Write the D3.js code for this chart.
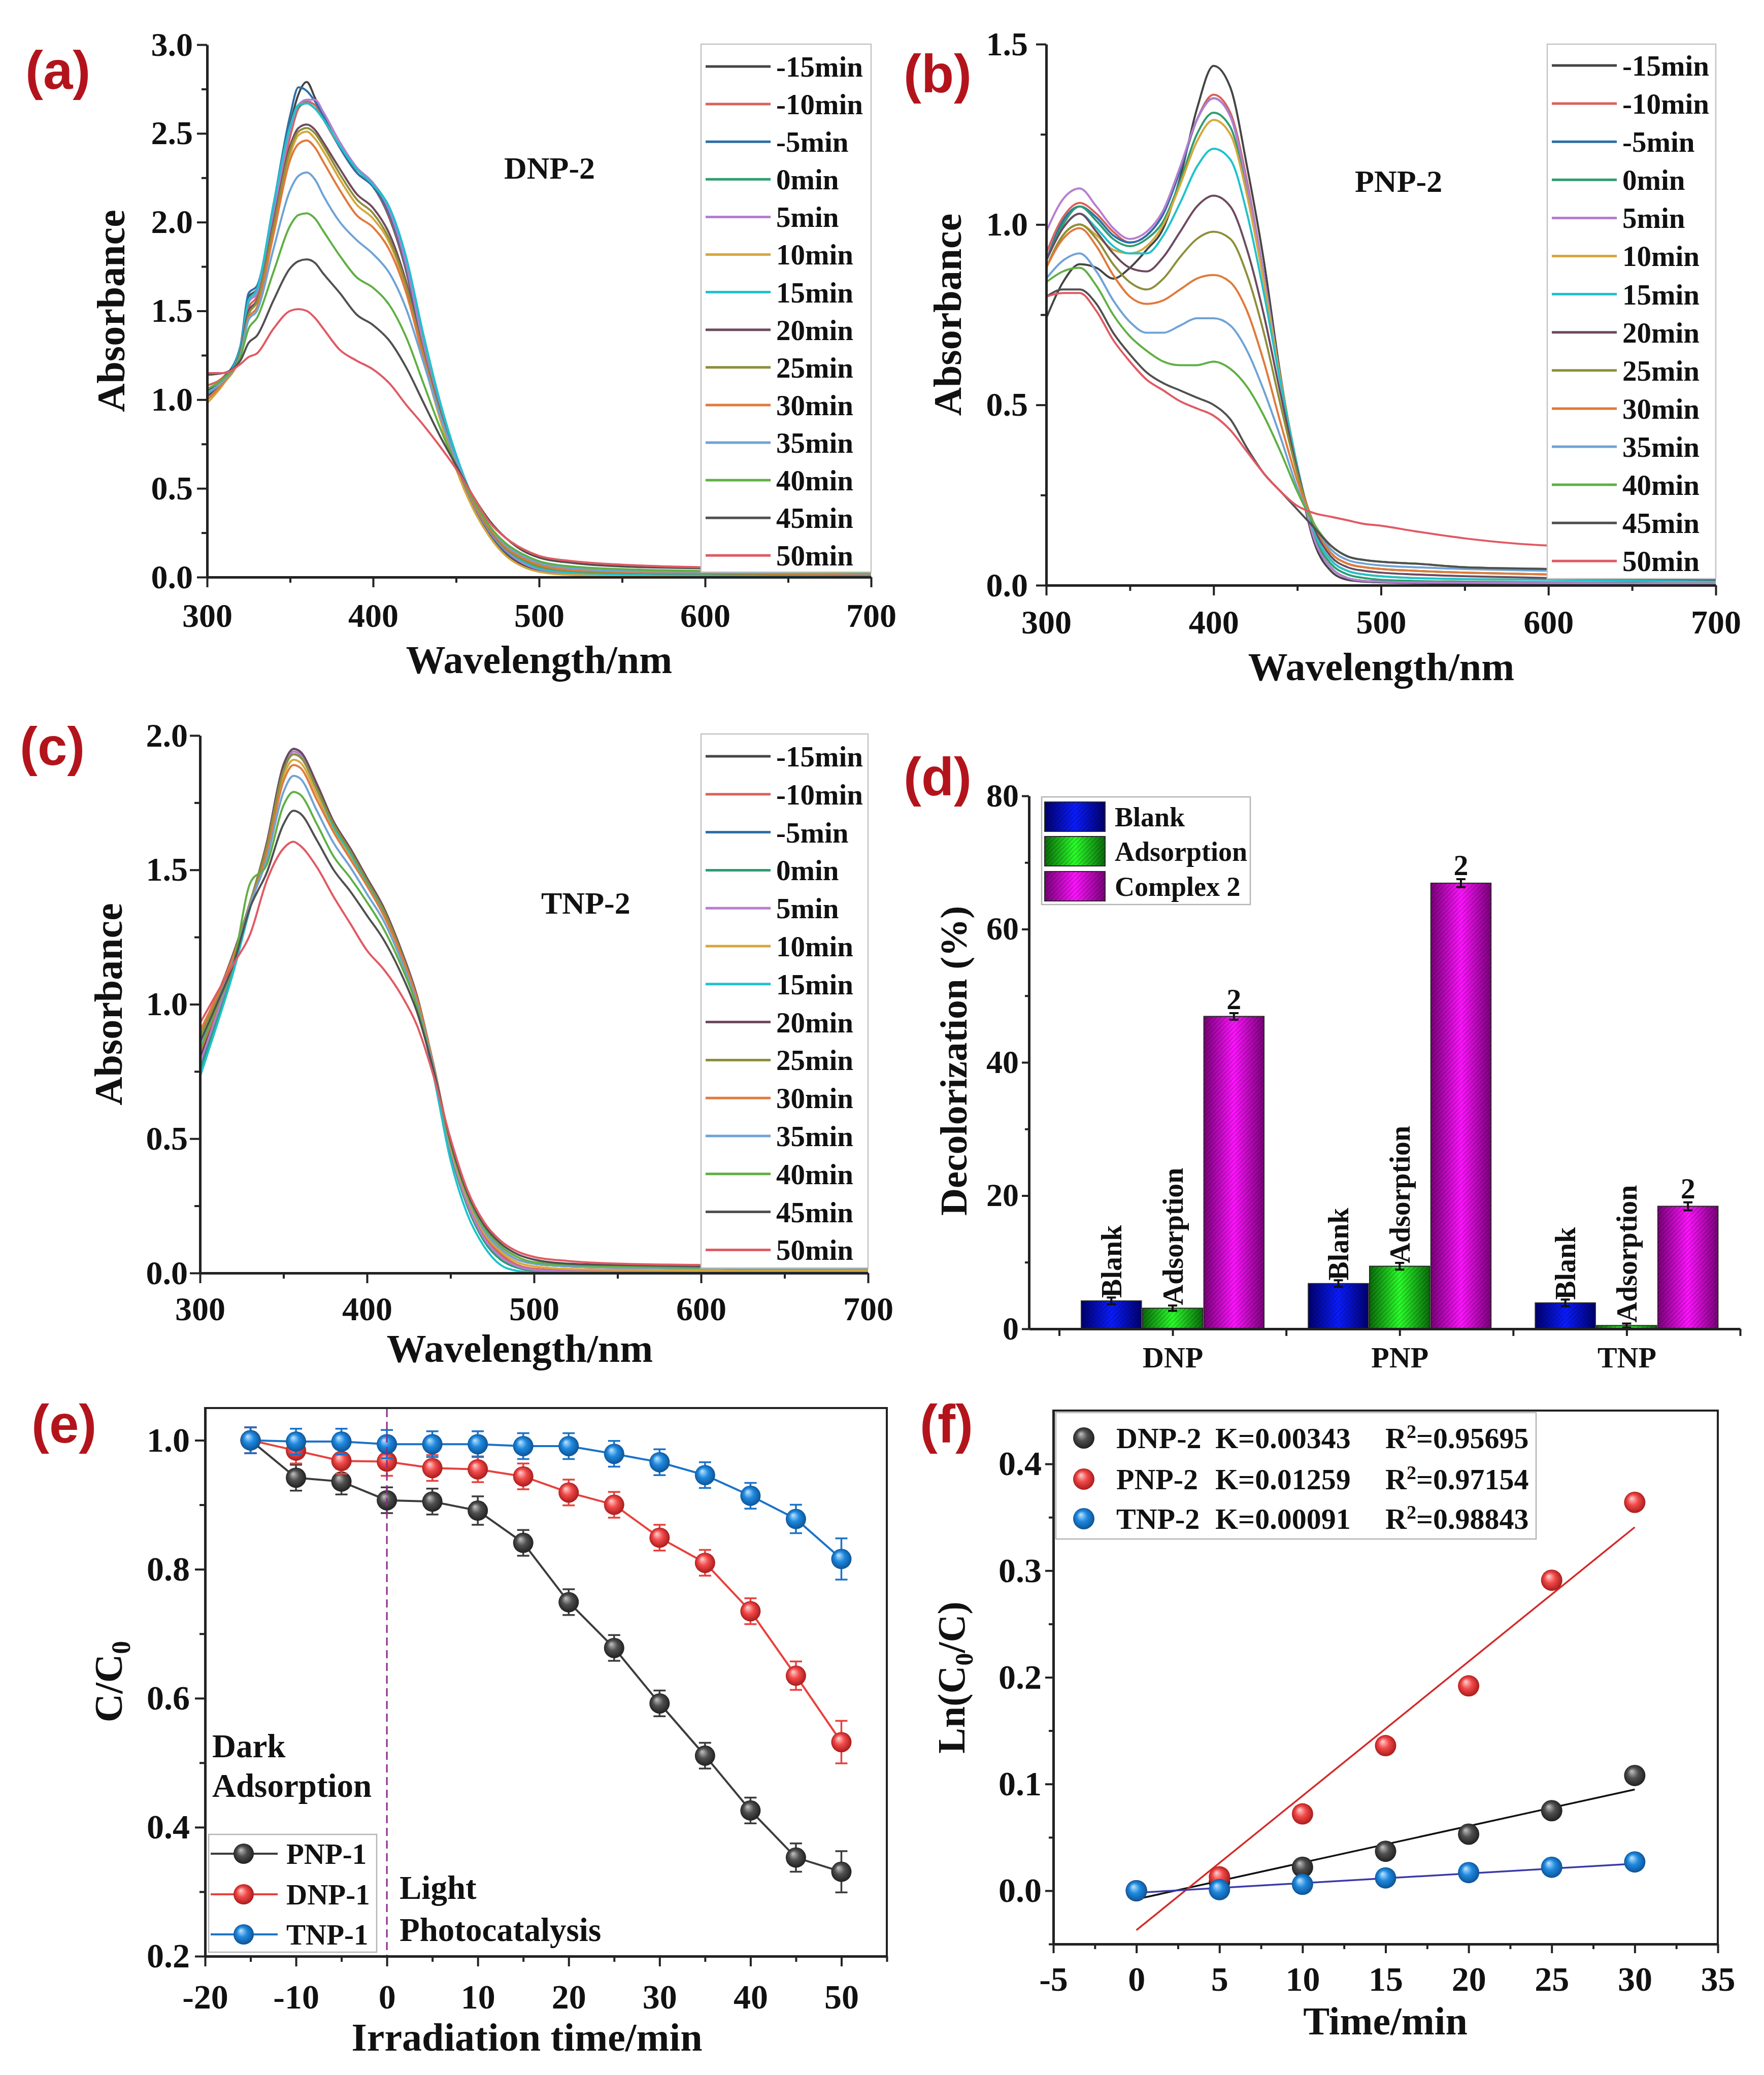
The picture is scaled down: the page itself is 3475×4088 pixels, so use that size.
<!DOCTYPE html>
<html>
<head>
<meta charset="utf-8">
<script src="https://cdn.jsdelivr.net/npm/d3@7/dist/d3.min.js"></script>
<style>
  body { margin: 0; background: #fff; }
  svg text { font-family: "Liberation Serif", "Times New Roman", serif; font-weight: bold; fill: #111; }
  svg text.tag { font-family: "Liberation Sans", Arial, sans-serif; fill: #b3141c; }
</style>
</head>
<body>
<div id="chart"></div>
<script>
// ---- spectra (a)-(c) ----
var timeLabels = ["-15min","-10min","-5min","0min","5min","10min","15min","20min","25min","30min","35min","40min","45min","50min"];
var lineColors = ["#454545","#d9625a","#2f6fa8","#2e9d72","#b57ed0","#d6a73c","#1fc2cc","#6e4a5e","#8d8f3a","#e07a3c","#6fa3d6","#5fb043","#505050","#e05a64"];

var wlDNP = [300,310,320,325,330,340,350,355,360,365,370,380,390,400,410,420,430,440,450,460,470,480,490,500,520,550,600,650,700];
var absDNP = [
  [1.05,1.12,1.28,1.58,1.62,2.05,2.55,2.72,2.79,2.70,2.60,2.42,2.28,2.20,2.02,1.72,1.28,0.92,0.62,0.40,0.24,0.13,0.07,0.035,0.015,0.01,0.008,0.006,0.005],
  [1.08,1.13,1.27,1.52,1.58,2.00,2.48,2.64,2.68,2.66,2.58,2.42,2.28,2.20,2.03,1.73,1.29,0.93,0.63,0.41,0.25,0.14,0.08,0.045,0.025,0.018,0.014,0.012,0.01],
  [1.04,1.12,1.30,1.60,1.64,2.10,2.60,2.76,2.74,2.68,2.60,2.42,2.28,2.20,2.04,1.74,1.30,0.93,0.63,0.41,0.25,0.14,0.08,0.04,0.02,0.012,0.01,0.008,0.006],
  [1.02,1.11,1.28,1.55,1.60,2.05,2.52,2.65,2.67,2.64,2.58,2.43,2.30,2.22,2.07,1.77,1.33,0.96,0.66,0.43,0.26,0.15,0.09,0.05,0.025,0.016,0.012,0.01,0.008],
  [1.03,1.11,1.28,1.55,1.60,2.04,2.52,2.66,2.69,2.69,2.62,2.45,2.31,2.22,2.06,1.76,1.32,0.95,0.65,0.42,0.26,0.15,0.08,0.045,0.022,0.014,0.01,0.008,0.007],
  [0.98,1.09,1.25,1.48,1.55,1.96,2.38,2.49,2.51,2.47,2.40,2.24,2.10,2.02,1.88,1.62,1.24,0.90,0.61,0.39,0.23,0.12,0.06,0.03,0.012,0.008,0.006,0.005,0.004],
  [1.03,1.11,1.29,1.56,1.62,2.10,2.54,2.66,2.67,2.64,2.58,2.43,2.30,2.21,2.08,1.80,1.38,1.00,0.69,0.45,0.28,0.16,0.09,0.05,0.025,0.016,0.012,0.01,0.008],
  [1.02,1.10,1.27,1.50,1.56,2.00,2.43,2.53,2.55,2.52,2.45,2.30,2.16,2.08,1.93,1.66,1.28,0.94,0.65,0.43,0.27,0.16,0.10,0.06,0.035,0.025,0.02,0.015,0.012],
  [1.00,1.10,1.26,1.48,1.55,1.98,2.41,2.51,2.53,2.50,2.43,2.27,2.13,2.05,1.90,1.64,1.27,0.93,0.65,0.43,0.27,0.16,0.10,0.06,0.035,0.025,0.02,0.015,0.012],
  [1.00,1.10,1.25,1.46,1.52,1.93,2.35,2.44,2.46,2.42,2.34,2.18,2.04,1.97,1.84,1.60,1.25,0.92,0.65,0.43,0.28,0.17,0.11,0.07,0.04,0.03,0.025,0.02,0.015],
  [1.04,1.11,1.25,1.45,1.50,1.85,2.18,2.26,2.28,2.24,2.15,2.00,1.90,1.82,1.71,1.51,1.22,0.92,0.66,0.45,0.29,0.18,0.12,0.08,0.05,0.035,0.03,0.025,0.02],
  [1.06,1.12,1.24,1.40,1.46,1.72,1.98,2.04,2.05,2.02,1.95,1.81,1.69,1.63,1.53,1.35,1.10,0.85,0.63,0.44,0.29,0.19,0.13,0.09,0.06,0.045,0.035,0.03,0.025],
  [1.14,1.15,1.22,1.32,1.36,1.56,1.74,1.78,1.79,1.77,1.71,1.60,1.48,1.42,1.33,1.18,0.99,0.80,0.63,0.46,0.32,0.22,0.15,0.11,0.08,0.06,0.05,0.045,0.04],
  [1.15,1.15,1.20,1.24,1.26,1.40,1.50,1.51,1.50,1.46,1.40,1.28,1.22,1.17,1.09,0.97,0.86,0.74,0.61,0.46,0.31,0.22,0.16,0.12,0.09,0.07,0.055,0.045,0.04]
];

var wlPNP = [300,310,320,330,340,350,360,370,380,390,400,410,420,430,440,450,460,470,480,490,500,520,550,600,650,700];
var absPNP = [
  [0.74,0.84,0.89,0.88,0.85,0.88,0.93,0.99,1.13,1.32,1.44,1.38,1.16,0.90,0.58,0.32,0.12,0.04,0.015,0.01,0.008,0.006,0.005,0.005,0.004,0.004],
  [0.92,1.02,1.06,1.03,0.98,0.95,0.97,1.03,1.15,1.29,1.36,1.31,1.12,0.86,0.57,0.32,0.13,0.05,0.02,0.012,0.01,0.008,0.007,0.006,0.005,0.005],
  [0.90,1.01,1.05,1.02,0.97,0.95,0.97,1.03,1.15,1.29,1.35,1.30,1.11,0.86,0.57,0.32,0.13,0.05,0.02,0.012,0.01,0.008,0.007,0.006,0.005,0.005],
  [0.90,1.00,1.05,1.01,0.96,0.94,0.96,1.01,1.12,1.25,1.31,1.27,1.09,0.85,0.57,0.33,0.14,0.06,0.03,0.02,0.015,0.012,0.01,0.008,0.007,0.006],
  [0.98,1.07,1.10,1.05,0.99,0.96,0.98,1.04,1.16,1.29,1.35,1.30,1.11,0.86,0.57,0.32,0.13,0.05,0.02,0.012,0.01,0.008,0.007,0.006,0.005,0.005],
  [0.88,0.97,1.00,0.97,0.93,0.92,0.94,1.00,1.11,1.23,1.29,1.25,1.08,0.84,0.57,0.33,0.15,0.07,0.04,0.03,0.025,0.02,0.017,0.015,0.013,0.012],
  [0.90,0.99,1.03,0.99,0.94,0.92,0.92,0.97,1.06,1.16,1.21,1.18,1.03,0.81,0.56,0.33,0.15,0.07,0.04,0.03,0.025,0.02,0.017,0.015,0.013,0.012],
  [0.90,0.99,1.03,0.98,0.92,0.88,0.87,0.91,0.98,1.05,1.08,1.05,0.93,0.75,0.53,0.32,0.16,0.08,0.05,0.04,0.035,0.03,0.025,0.02,0.018,0.016],
  [0.88,0.97,1.00,0.96,0.89,0.84,0.82,0.85,0.91,0.96,0.98,0.96,0.86,0.70,0.50,0.31,0.17,0.09,0.06,0.05,0.045,0.04,0.035,0.03,0.028,0.025],
  [0.88,0.96,0.99,0.94,0.86,0.80,0.78,0.79,0.82,0.85,0.86,0.84,0.76,0.62,0.45,0.29,0.17,0.09,0.06,0.05,0.045,0.04,0.035,0.03,0.028,0.025],
  [0.85,0.90,0.92,0.87,0.79,0.73,0.70,0.70,0.72,0.74,0.74,0.72,0.65,0.54,0.41,0.27,0.17,0.10,0.07,0.06,0.055,0.05,0.045,0.04,0.035,0.032],
  [0.84,0.87,0.88,0.83,0.75,0.69,0.65,0.62,0.61,0.61,0.62,0.60,0.55,0.47,0.37,0.26,0.17,0.11,0.08,0.07,0.065,0.06,0.05,0.045,0.04,0.038],
  [0.80,0.82,0.82,0.78,0.70,0.64,0.59,0.56,0.54,0.52,0.50,0.46,0.38,0.31,0.26,0.21,0.16,0.11,0.08,0.07,0.065,0.06,0.05,0.045,0.04,0.038],
  [0.80,0.81,0.81,0.76,0.68,0.62,0.57,0.54,0.51,0.49,0.47,0.43,0.37,0.31,0.26,0.22,0.20,0.19,0.18,0.17,0.165,0.15,0.13,0.11,0.105,0.10]
];

var wlTNP = [300,310,320,330,340,350,356,360,370,380,390,400,410,420,430,440,450,460,470,480,490,500,520,550,600,650,700];
var absTNP = [
  [0.80,0.97,1.15,1.37,1.60,1.89,1.95,1.94,1.81,1.67,1.57,1.46,1.35,1.20,1.02,0.76,0.46,0.27,0.14,0.07,0.03,0.015,0.008,0.005,0.004,0.003,0.003],
  [0.82,0.98,1.16,1.37,1.60,1.88,1.94,1.93,1.80,1.66,1.56,1.45,1.34,1.19,1.01,0.76,0.46,0.27,0.14,0.07,0.03,0.016,0.009,0.006,0.005,0.004,0.004],
  [0.76,0.95,1.14,1.36,1.60,1.89,1.95,1.94,1.81,1.67,1.57,1.46,1.35,1.20,1.02,0.76,0.45,0.25,0.12,0.05,0.02,0.008,0.004,0.003,0.003,0.003,0.003],
  [0.75,0.94,1.13,1.36,1.59,1.87,1.93,1.92,1.80,1.66,1.56,1.45,1.34,1.19,1.01,0.75,0.45,0.25,0.12,0.05,0.02,0.008,0.004,0.003,0.003,0.003,0.003],
  [0.78,0.96,1.15,1.37,1.60,1.88,1.94,1.93,1.80,1.66,1.56,1.45,1.34,1.19,1.01,0.76,0.46,0.26,0.13,0.06,0.025,0.012,0.006,0.004,0.004,0.003,0.003],
  [0.86,1.00,1.17,1.37,1.58,1.85,1.91,1.90,1.78,1.65,1.55,1.45,1.34,1.19,1.01,0.76,0.47,0.28,0.15,0.08,0.04,0.025,0.015,0.012,0.01,0.01,0.01],
  [0.73,0.92,1.12,1.36,1.59,1.87,1.93,1.92,1.80,1.66,1.56,1.45,1.34,1.19,1.00,0.73,0.42,0.22,0.10,0.03,0.008,0.002,0.001,0.001,0.001,0.001,0.001],
  [0.90,1.03,1.19,1.38,1.60,1.89,1.95,1.94,1.82,1.68,1.58,1.47,1.36,1.21,1.03,0.77,0.48,0.29,0.16,0.09,0.05,0.035,0.025,0.02,0.018,0.015,0.015],
  [0.88,1.02,1.18,1.38,1.59,1.87,1.93,1.92,1.80,1.67,1.57,1.46,1.35,1.20,1.02,0.77,0.48,0.29,0.16,0.09,0.05,0.035,0.025,0.02,0.018,0.015,0.015],
  [0.90,1.03,1.18,1.37,1.56,1.83,1.89,1.88,1.76,1.64,1.54,1.44,1.33,1.19,1.02,0.77,0.48,0.29,0.16,0.09,0.05,0.035,0.025,0.02,0.018,0.015,0.015],
  [0.85,1.00,1.16,1.37,1.54,1.79,1.85,1.84,1.72,1.60,1.51,1.41,1.31,1.17,1.00,0.76,0.48,0.29,0.16,0.09,0.05,0.035,0.025,0.02,0.018,0.015,0.015],
  [0.83,0.99,1.15,1.45,1.52,1.74,1.79,1.78,1.67,1.55,1.47,1.38,1.28,1.15,0.99,0.75,0.48,0.29,0.17,0.10,0.06,0.04,0.03,0.025,0.02,0.02,0.02],
  [0.86,1.00,1.15,1.36,1.49,1.67,1.72,1.71,1.61,1.50,1.42,1.33,1.24,1.12,0.97,0.75,0.49,0.30,0.18,0.11,0.07,0.05,0.035,0.03,0.025,0.022,0.02],
  [0.93,1.04,1.15,1.26,1.46,1.58,1.605,1.59,1.51,1.40,1.30,1.20,1.13,1.04,0.92,0.73,0.50,0.31,0.19,0.12,0.08,0.06,0.045,0.035,0.03,0.025,0.022]
];

// ---- bars (d) ----
var groups = ["DNP", "PNP", "TNP"];
var barSeries = ["Blank", "Adsorption", "Complex 2"];
var blankVals = [4.2, 6.8, 3.9];
var adsVals = [3.1, 9.4, 0.5];
var complexVals = [46.9, 66.9, 18.4];
var blankErr = [0.5, 0.5, 0.5];
var adsErr = [0.4, 0.5, 0.3];
var complexErr = [0.5, 0.6, 0.6];

// ---- kinetics (e) ----
var timesE = [-15,-10,-5,0,5,10,15,20,25,30,35,40,45,50];
var pnp1 = [1.0,0.942,0.936,0.907,0.905,0.891,0.841,0.749,0.678,0.592,0.511,0.426,0.353,0.331];
var dnp1 = [1.0,0.984,0.968,0.967,0.957,0.955,0.944,0.919,0.900,0.849,0.810,0.735,0.635,0.532];
var tnp1 = [1.0,0.998,0.998,0.994,0.994,0.994,0.991,0.991,0.979,0.966,0.946,0.914,0.878,0.816];
var pnp1Err = [0.02,0.02,0.02,0.02,0.02,0.022,0.02,0.02,0.02,0.02,0.02,0.02,0.022,0.032];
var dnp1Err = [0.02,0.02,0.02,0.022,0.02,0.02,0.02,0.02,0.02,0.02,0.02,0.02,0.022,0.033];
var tnp1Err = [0.02,0.02,0.02,0.022,0.02,0.02,0.02,0.02,0.02,0.02,0.02,0.02,0.022,0.032];

// ---- ln(C0/C) fit (f) ----
var timesF = [0,5,10,15,20,25,30];
var dnp2 = [0,0.008,0.022,0.037,0.053,0.075,0.108];
var pnp2 = [0,0.013,0.072,0.136,0.192,0.291,0.364];
var tnp2 = [0,0.001,0.006,0.012,0.017,0.022,0.027];
var fitNames = ["DNP-2", "PNP-2", "TNP-2"];
var fitK = [0.00343, 0.01259, 0.00091];
var fitB = [-0.008, -0.037, -0.002];
var fitR2 = ["0.95695", "0.97154", "0.98843"];

var W = 3475, H = 4088;
var svg = d3.select("#chart").append("svg").attr("width", W).attr("height", H);
svg.append("rect").attr("width", W).attr("height", H).attr("fill", "#fff");
var defs = svg.append("defs");

// plain hyphen for negative ticks, like the original
var plain = function(d) { return String(d); };

function styleAxis(g, fs) {
  g.attr("font-size", fs);
  g.select(".domain").attr("stroke", "#222").attr("stroke-width", 5);
  g.selectAll(".tick line").attr("stroke", "#222").attr("stroke-width", 4);
}
function minorAxis(g) {
  g.select(".domain").remove();
  g.selectAll(".tick line").attr("stroke", "#222").attr("stroke-width", 4);
}
function tag(txt, x, y) {
  svg.append("text").attr("class", "tag").attr("x", x).attr("y", y).attr("font-size", 105).text(txt);
}
function ytitle(x, y, fs) {
  return svg.append("text").attr("transform", "translate(" + x + "," + y + ") rotate(-90)")
    .attr("text-anchor", "middle").attr("font-size", fs);
}

// spectra panels
function drawSpectrum(p) {
  var x = d3.scaleLinear().domain([300, 700]).range([p.x0, p.x1]);
  var y = d3.scaleLinear().domain([0, p.yMax]).range([p.y1, p.y0]);
  defs.append("clipPath").attr("id", "clip" + p.key).append("rect")
    .attr("x", p.x0).attr("y", p.y0 - 20).attr("width", p.x1 - p.x0).attr("height", p.y1 - p.y0 + 20);
  var line = d3.line()
    .x(function(d, i) { return x(p.wl[i]); })
    .y(function(d) { return y(d); })
    .curve(d3.curveMonotoneX);
  svg.append("g").attr("clip-path", "url(#clip" + p.key + ")")
    .selectAll("path").data(p.rows).enter().append("path")
    .attr("d", line).attr("fill", "none")
    .attr("stroke", function(d, i) { return lineColors[i]; })
    .attr("stroke-width", 4);

  // legend
  var lg = svg.append("g");
  lg.append("rect").attr("x", p.lx0).attr("y", p.ly0).attr("width", p.x1 - p.lx0).attr("height", p.ly1 - p.ly0)
    .attr("fill", "#fff").attr("stroke", "#c4c4c4").attr("stroke-width", 2.5);
  var rows = lg.selectAll(".lr").data(timeLabels).enter().append("g")
    .attr("transform", function(d, i) { return "translate(0," + (p.lfirst + i * p.lstep) + ")"; });
  rows.append("line").attr("x1", p.lx0 + 9).attr("x2", p.lx0 + 137)
    .attr("stroke", function(d, i) { return lineColors[i]; }).attr("stroke-width", 5);
  rows.append("text").attr("x", p.lx0 + 148).attr("dy", "0.35em").attr("font-size", 57).text(function(d) { return d; });

  var ax = svg.append("g").attr("transform", "translate(0," + p.y1 + ")")
    .call(d3.axisBottom(x).tickValues([300,400,500,600,700]).tickSize(20).tickPadding(p.xPad).tickSizeOuter(0));
  styleAxis(ax, 66);
  var axm = svg.append("g").attr("transform", "translate(0," + p.y1 + ")")
    .call(d3.axisBottom(x).tickValues([350,450,550,650]).tickSize(11).tickFormat(""));
  minorAxis(axm);
  var ay = svg.append("g").attr("transform", "translate(" + p.x0 + ",0)")
    .call(d3.axisLeft(y).tickValues(d3.range(0, p.yMax + 0.01, 0.5)).tickFormat(d3.format(".1f"))
      .tickSize(20).tickPadding(p.yPad).tickSizeOuter(0));
  styleAxis(ay, 66);
  var aym = svg.append("g").attr("transform", "translate(" + p.x0 + ",0)")
    .call(d3.axisLeft(y).tickValues(d3.range(0.25, p.yMax, 0.5)).tickSize(11).tickFormat(""));
  minorAxis(aym);

  svg.append("text").attr("x", p.nx).attr("y", p.ny).attr("font-size", 62).text(p.name);
  ytitle(p.tx, (p.y0 + p.y1) / 2, 78).text("Absorbance");
  svg.append("text").attr("x", p.wx).attr("y", p.wy).attr("text-anchor", "middle").attr("font-size", 78).text("Wavelength/nm");
}

drawSpectrum({ key: "a", wl: wlDNP, rows: absDNP, x0: 408, x1: 1716, y0: 88, y1: 1137, yMax: 3,
  xPad: 31, yPad: 8, lx0: 1381, ly0: 87, ly1: 1127, lfirst: 131, lstep: 74.1,
  name: "DNP-2", nx: 993, ny: 352, tx: 245, wx: 1062, wy: 1326 });
drawSpectrum({ key: "b", wl: wlPNP, rows: absPNP, x0: 2061, x1: 3380, y0: 87, y1: 1153, yMax: 1.5,
  xPad: 28, yPad: 16, lx0: 3048, ly0: 87, ly1: 1140, lfirst: 129, lstep: 75.1,
  name: "PNP-2", nx: 2669, ny: 378, tx: 1893, wx: 2721, wy: 1340 });
drawSpectrum({ key: "c", wl: wlTNP, rows: absTNP, x0: 394, x1: 1710, y0: 1449, y1: 2508, yMax: 2,
  xPad: 26, yPad: 4, lx0: 1381, ly0: 1446, ly1: 2498, lfirst: 1490, lstep: 74.8,
  name: "TNP-2", nx: 1066, ny: 1800, tx: 240, wx: 1024, wy: 2683 });

tag("(a)", 50, 175);
tag("(b)", 1780, 182);
tag("(c)", 39, 1507);
tag("(d)", 1780, 1567);
tag("(e)", 62, 2842);
tag("(f)", 1812, 2842);

// ---- panel (d) ----
(function() {
  var x = d3.scaleLinear().domain([0.367, 3.5]).range([2027, 3428]);
  var y = d3.scaleLinear().domain([0, 80]).range([2618, 1568]);
  var fills = [["#00006e", "#0a1cff"], ["#0a6b0a", "#2bff2b"], ["#7a007a", "#ff14ff"]];
  fills.forEach(function(f, i) {
    var lgr = defs.append("linearGradient").attr("id", "bar" + i).attr("x1", 0).attr("x2", 1).attr("y1", 0).attr("y2", 0);
    lgr.append("stop").attr("offset", "0%").attr("stop-color", f[0]);
    lgr.append("stop").attr("offset", "50%").attr("stop-color", f[1]);
    lgr.append("stop").attr("offset", "100%").attr("stop-color", f[0]);
  });
  var pat = defs.append("pattern").attr("id", "hatch").attr("width", 9).attr("height", 9).attr("patternUnits", "userSpaceOnUse");
  pat.append("path").attr("d", "M-2,2 L2,-2 M0,9 L9,0 M7,11 L11,7").attr("stroke", "rgba(0,0,0,0.18)").attr("stroke-width", 2);

  var vals = [blankVals, adsVals, complexVals];
  var errs = [blankErr, adsErr, complexErr];
  var offs = [-0.27, 0, 0.27];
  var bw = x(0.265) - x(0);
  var bars = [];
  groups.forEach(function(g, gi) {
    vals.forEach(function(v, si) {
      bars.push({ cat: gi + 1, s: si, v: v[gi], e: errs[si][gi] });
    });
  });
  var bg = svg.append("g");
  var b = bg.selectAll("g").data(bars).enter().append("g");
  b.append("rect").attr("x", function(d) { return x(d.cat + offs[d.s]) - bw / 2; })
    .attr("y", function(d) { return y(d.v); }).attr("width", bw)
    .attr("height", function(d) { return y(0) - y(d.v); })
    .attr("fill", function(d) { return "url(#bar" + d.s + ")"; })
    .attr("stroke", "#2a2a2a").attr("stroke-width", 2);
  b.append("rect").attr("x", function(d) { return x(d.cat + offs[d.s]) - bw / 2; })
    .attr("y", function(d) { return y(d.v); }).attr("width", bw)
    .attr("height", function(d) { return y(0) - y(d.v); })
    .attr("fill", "url(#hatch)");
  // error bars
  b.append("path").attr("d", function(d) {
    var cx = x(d.cat + offs[d.s]), t = y(d.v + d.e), bt = y(d.v - d.e);
    return "M" + (cx - 9) + "," + t + "H" + (cx + 9) + "M" + cx + "," + t + "V" + bt + "M" + (cx - 9) + "," + bt + "H" + (cx + 9);
  }).attr("stroke", "#111").attr("stroke-width", 4).attr("fill", "none");
  // rotated names above Blank / Adsorption bars
  b.filter(function(d) { return d.s < 2; }).append("text").attr("transform", function(d) {
      return "translate(" + x(d.cat + offs[d.s]) + "," + (y(d.v) - 6) + ") rotate(-90)";
    })
    .attr("dy", "0.35em").attr("font-size", 56)
    .text(function(d) { return barSeries[d.s]; });
  // upright "2" above Complex 2 bars
  b.filter(function(d) { return d.s === 2; }).append("text")
    .attr("x", function(d) { return x(d.cat + offs[d.s]); })
    .attr("y", function(d) { return y(d.v + d.e) - 8; })
    .attr("text-anchor", "middle").attr("font-size", 58).text("2");

  var ax = svg.append("g").attr("transform", "translate(0,2618)")
    .call(d3.axisBottom(x).tickValues([1, 2, 3]).tickFormat(function(d) { return groups[d - 1]; })
      .tickSize(14).tickPadding(21).tickSizeOuter(0));
  styleAxis(ax, 58);
  var axm = svg.append("g").attr("transform", "translate(0,2618)")
    .call(d3.axisBottom(x).tickValues([0.5, 1.5, 2.5, 3.5]).tickSize(14).tickFormat(""));
  minorAxis(axm);
  var ay = svg.append("g").attr("transform", "translate(2027,0)")
    .call(d3.axisLeft(y).tickValues([0, 20, 40, 60, 80]).tickSize(14).tickPadding(6).tickSizeOuter(0));
  styleAxis(ay, 64);
  var aym = svg.append("g").attr("transform", "translate(2027,0)")
    .call(d3.axisLeft(y).tickValues([10, 30, 50, 70]).tickSize(8).tickFormat(""));
  minorAxis(aym);

  // legend
  var lg = svg.append("g");
  lg.append("rect").attr("x", 2052).attr("y", 1570).attr("width", 411).attr("height", 212)
    .attr("fill", "#fff").attr("stroke", "#b4b4b4").attr("stroke-width", 2.5);
  var lr = lg.selectAll(".r").data(barSeries).enter().append("g")
    .attr("transform", function(d, i) { return "translate(0," + [1609, 1677, 1746][i] + ")"; });
  lr.append("rect").attr("x", 2058).attr("y", -29).attr("width", 119).attr("height", 58)
    .attr("fill", function(d, i) { return "url(#bar" + i + ")"; }).attr("stroke", "#2a2a2a").attr("stroke-width", 2);
  lr.append("rect").attr("x", 2058).attr("y", -29).attr("width", 119).attr("height", 58).attr("fill", "url(#hatch)");
  lr.append("text").attr("x", 2196).attr("dy", "0.35em").attr("font-size", 54).text(function(d) { return d; });

  ytitle(1904, 2090, 75).text("Decolorization (%)");
})();

// sphere gradients
var sphere = { gray: ["#c4c4c4", "#505050", "#1a1a1a"], red: ["#ffd4d4", "#f24a4a", "#a01515"], blue: ["#c4e6ff", "#1f8ae0", "#0b4c8c"] };
Object.keys(sphere).forEach(function(k) {
  var rg = defs.append("radialGradient").attr("id", "sph-" + k).attr("cx", "50%").attr("cy", "50%").attr("r", "55%")
    .attr("fx", "35%").attr("fy", "30%");
  rg.append("stop").attr("offset", "0%").attr("stop-color", sphere[k][0]);
  rg.append("stop").attr("offset", "45%").attr("stop-color", sphere[k][1]);
  rg.append("stop").attr("offset", "100%").attr("stop-color", sphere[k][2]);
});

// ---- panel (e) ----
(function() {
  var x = d3.scaleLinear().domain([-20, 55]).range([404, 1747]);
  var y = d3.scaleLinear().domain([0.2, 1.05]).range([3854, 2774]);
  svg.append("rect").attr("x", 404).attr("y", 2774).attr("width", 1343).attr("height", 1080)
    .attr("fill", "none").attr("stroke", "#222").attr("stroke-width", 4);

  var series = [
    { vals: pnp1, err: pnp1Err, col: "#3c3c3c", sph: "gray", name: "PNP-1" },
    { vals: dnp1, err: dnp1Err, col: "#e8413c", sph: "red", name: "DNP-1" },
    { vals: tnp1, err: tnp1Err, col: "#1b73c8", sph: "blue", name: "TNP-1" }
  ];
  var line = d3.line().x(function(d, i) { return x(timesE[i]); }).y(function(d) { return y(d); });
  series.forEach(function(s) {
    var g = svg.append("g");
    g.append("path").attr("d", line(s.vals)).attr("fill", "none").attr("stroke", s.col).attr("stroke-width", 4);
    g.selectAll(".eb").data(s.vals).enter().append("path")
      .attr("d", function(d, i) {
        var cx = x(timesE[i]), t = y(d + s.err[i]), bt = y(d - s.err[i]);
        return "M" + (cx - 12) + "," + t + "H" + (cx + 12) + "M" + cx + "," + t + "V" + bt + "M" + (cx - 12) + "," + bt + "H" + (cx + 12);
      })
      .attr("stroke", s.col).attr("stroke-width", 3.5).attr("fill", "none");
    g.selectAll("circle").data(s.vals).enter().append("circle")
      .attr("cx", function(d, i) { return x(timesE[i]); }).attr("cy", function(d) { return y(d); })
      .attr("r", 20).attr("fill", "url(#sph-" + s.sph + ")");
  });
  svg.append("line").attr("x1", x(0)).attr("x2", x(0)).attr("y1", 2776).attr("y2", 3852)
    .attr("stroke", "#8b2a8b").attr("stroke-width", 3).attr("stroke-dasharray", "16,9");

  var ax = svg.append("g").attr("transform", "translate(0,3854)")
    .call(d3.axisBottom(x).tickValues(d3.range(-20, 51, 10)).tickFormat(plain).tickSize(20).tickPadding(35).tickSizeOuter(0));
  styleAxis(ax, 68);
  var axm = svg.append("g").attr("transform", "translate(0,3854)")
    .call(d3.axisBottom(x).tickValues(d3.range(-15, 56, 10)).tickSize(11).tickFormat(""));
  minorAxis(axm);
  var ay = svg.append("g").attr("transform", "translate(404,0)")
    .call(d3.axisLeft(y).tickValues([0.2, 0.4, 0.6, 0.8, 1.0]).tickFormat(d3.format(".1f"))
      .tickSize(20).tickPadding(10).tickSizeOuter(0));
  styleAxis(ay, 68);
  var aym = svg.append("g").attr("transform", "translate(404,0)")
    .call(d3.axisLeft(y).tickValues([0.3, 0.5, 0.7, 0.9]).tickSize(11).tickFormat(""));
  minorAxis(aym);

  // legend
  var lg = svg.append("g");
  lg.append("rect").attr("x", 411).attr("y", 3614).attr("width", 331).attr("height", 232)
    .attr("fill", "#fff").attr("stroke", "#b4b4b4").attr("stroke-width", 2.5);
  var lr = lg.selectAll(".r").data(series).enter().append("g")
    .attr("transform", function(d, i) { return "translate(0," + [3652, 3732, 3811][i] + ")"; });
  lr.append("line").attr("x1", 415).attr("x2", 547).attr("stroke", function(d) { return d.col; }).attr("stroke-width", 4);
  lr.append("circle").attr("cx", 480).attr("r", 20).attr("fill", function(d) { return "url(#sph-" + d.sph + ")"; });
  lr.append("text").attr("x", 564).attr("dy", "0.35em").attr("font-size", 57).text(function(d) { return d.name; });

  svg.append("text").attr("x", 418).attr("y", 3462).attr("font-size", 65).text("Dark");
  svg.append("text").attr("x", 418).attr("y", 3540).attr("font-size", 65).text("Adsorption");
  svg.append("text").attr("x", 787).attr("y", 3741).attr("font-size", 65).text("Light");
  svg.append("text").attr("x", 787).attr("y", 3824).attr("font-size", 65).text("Photocatalysis");

  var t = ytitle(240, 3313, 78);
  t.append("tspan").text("C/C");
  t.append("tspan").attr("font-size", 52).attr("dy", 16).text("0");
  svg.append("text").attr("x", 1038).attr("y", 4040).attr("text-anchor", "middle").attr("font-size", 78).text("Irradiation time/min");
})();

// ---- panel (f) ----
(function() {
  var x = d3.scaleLinear().domain([-5, 35]).range([2075, 3384]);
  var y = d3.scaleLinear().domain([-0.05, 0.45]).range([3830, 2779]);
  svg.append("rect").attr("x", 2075).attr("y", 2779).attr("width", 1309).attr("height", 1051)
    .attr("fill", "none").attr("stroke", "#222").attr("stroke-width", 4);

  var pts = [dnp2, pnp2, tnp2];
  var lineCols = ["#111", "#d42a2a", "#3b3ba8"];
  var sph = ["gray", "red", "blue"];
  fitK.forEach(function(k, i) {
    svg.append("line").attr("x1", x(0)).attr("y1", y(fitB[i])).attr("x2", x(30)).attr("y2", y(fitB[i] + k * 30))
      .attr("stroke", lineCols[i]).attr("stroke-width", 3.5);
  });
  pts.forEach(function(p, i) {
    svg.append("g").selectAll("circle").data(p).enter().append("circle")
      .attr("cx", function(d, j) { return x(timesF[j]); }).attr("cy", function(d) { return y(d); })
      .attr("r", 21).attr("fill", "url(#sph-" + sph[i] + ")");
  });

  var ax = svg.append("g").attr("transform", "translate(0,3830)")
    .call(d3.axisBottom(x).tickValues(d3.range(-5, 36, 5)).tickFormat(plain).tickSize(18).tickPadding(26).tickSizeOuter(0));
  styleAxis(ax, 68);
  var axm = svg.append("g").attr("transform", "translate(0,3830)")
    .call(d3.axisBottom(x).tickValues(d3.range(-2.5, 35, 5)).tickSize(10).tickFormat(""));
  minorAxis(axm);
  var ay = svg.append("g").attr("transform", "translate(2075,0)")
    .call(d3.axisLeft(y).tickValues([0, 0.1, 0.2, 0.3, 0.4]).tickFormat(d3.format(".1f"))
      .tickSize(16).tickPadding(7).tickSizeOuter(0));
  styleAxis(ay, 68);
  var aym = svg.append("g").attr("transform", "translate(2075,0)")
    .call(d3.axisLeft(y).tickValues([-0.05, 0.05, 0.15, 0.25, 0.35]).tickSize(9).tickFormat(""));
  minorAxis(aym);

  // legend
  var lg = svg.append("g");
  lg.append("rect").attr("x", 2080).attr("y", 2783).attr("width", 946).attr("height", 249)
    .attr("fill", "#fff").attr("stroke", "#b4b4b4").attr("stroke-width", 2.5);
  var lr = lg.selectAll(".r").data(fitNames).enter().append("g")
    .attr("transform", function(d, i) { return "translate(0," + [2833, 2914, 2992][i] + ")"; });
  lr.append("circle").attr("cx", 2135).attr("r", 21).attr("fill", function(d, i) { return "url(#sph-" + sph[i] + ")"; });
  lr.append("text").attr("x", 2199).attr("dy", "0.35em").attr("font-size", 58).text(function(d) { return d; });
  lr.append("text").attr("x", 2394).attr("dy", "0.35em").attr("font-size", 58).text(function(d, i) { return "K=" + fitK[i].toFixed(5); });
  var r2 = lr.append("text").attr("x", 2729).attr("dy", "0.35em").attr("font-size", 58);
  r2.append("tspan").text("R");
  r2.append("tspan").attr("font-size", 38).attr("dy", -20).text("2");
  r2.append("tspan").attr("dy", 20).text(function(d, i) { return "=" + fitR2[i]; });

  var t = ytitle(1900, 3305, 76);
  t.append("tspan").text("Ln(C");
  t.append("tspan").attr("font-size", 50).attr("dy", 16).text("0");
  t.append("tspan").attr("dy", -16).text("/C)");
  svg.append("text").attr("x", 2729).attr("y", 4008).attr("text-anchor", "middle").attr("font-size", 78).text("Time/min");
})();
</script>
</body>
</html>
